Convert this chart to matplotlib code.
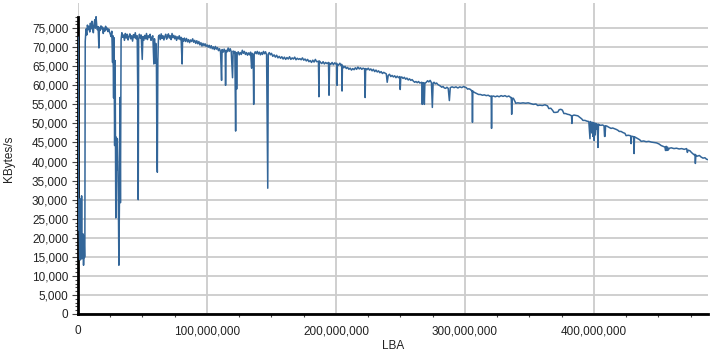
import matplotlib.pyplot as plt
import matplotlib.ticker as mticker
import numpy as np

# LBA position (millions of sectors) and transfer rate (thousands of KB/s)
lba_start = [0.0, 0.4, 0.7, 1.0, 1.3, 1.6, 1.9, 2.2, 2.5, 2.8, 3.1, 3.4, 3.7, 4.0, 4.3, 4.7, 5.0, 5.3,
             5.6, 6.2, 6.8, 7.3, 7.9, 8.5, 9.1, 9.6, 10.2, 10.8, 11.3, 11.9, 12.4, 13.0, 13.5, 14.0,
             14.5, 15.0, 15.6, 16.2, 16.6, 17.2, 17.8, 18.4, 19.0, 19.6, 20.2, 20.8, 21.4, 22.0, 22.6,
             23.2, 23.8, 24.4, 25.0, 25.6, 26.2, 26.8, 27.1, 27.6, 27.9, 28.4, 28.8, 29.3, 29.7, 30.1,
             30.5, 30.9, 31.3, 31.7, 32.1, 32.5, 32.9, 33.4, 34.0, 34.6]
kbs_start = [72.6, 22.0, 30.0, 22.5, 14.3, 30.2, 14.2, 29.5, 14.8, 31.0, 14.5, 20.8, 14.6, 21.0, 12.8, 20.5, 14.8, 15.2,
             71.5, 74.8, 73.2, 75.8, 74.6, 75.5, 74.0, 76.3, 74.8, 76.8, 75.2, 73.8, 76.0, 77.2, 75.0, 78.0,
             75.8, 74.6, 75.4, 69.8, 75.2, 74.4, 75.6, 74.8, 75.3, 73.6, 75.0, 74.2, 75.5, 74.6, 75.0,
             74.1, 74.8, 74.0, 73.5, 72.8, 74.2, 66.0, 73.0, 56.7, 72.5, 44.2, 66.5, 25.2, 46.4, 37.8,
             46.0, 38.5, 29.0, 12.8, 29.0, 56.8, 29.2, 72.0, 73.8, 72.6]

lba_early = [35.3, 36.0, 36.7, 37.4, 38.1, 38.8, 39.5, 40.2, 40.9, 41.6, 42.3, 43.0, 43.7, 44.4, 45.1, 45.9,
             46.4, 46.7, 47.0, 47.6, 48.3, 49.0, 49.8, 50.3, 51.0, 51.7, 52.4, 53.1, 53.8, 54.5, 55.2,
             55.9, 56.6, 57.3, 58.0, 58.8, 59.3, 59.8, 60.3, 60.8, 61.2, 61.5, 61.9, 62.4, 63.1, 63.8,
             64.5, 65.2, 65.9, 66.6, 67.3, 68.0, 68.7, 69.4, 70.1, 70.8, 71.5, 72.2, 72.9, 73.6, 74.3,
             75.0, 75.7, 76.4, 77.1, 77.8, 78.5, 79.2, 79.9, 80.7, 81.1, 81.8, 82.5, 83.3, 84.1, 84.9,
             85.7, 86.5, 87.3, 88.1, 88.9, 89.7, 90.5, 91.3, 92.1, 92.9, 93.7, 94.5, 95.3, 96.1, 96.9,
             97.7, 98.5, 99.3]
kbs_early = [73.2, 71.8, 73.6, 72.4, 73.4, 71.9, 72.8, 73.5, 72.2, 73.0, 71.6, 73.3, 72.5, 73.8, 72.2, 73.0,
             55.5, 30.0, 72.0, 73.4, 72.4, 73.2, 66.8, 72.8, 71.8, 73.1, 72.2, 73.6, 72.0, 73.0, 72.5,
             73.4, 71.8, 72.6, 73.0, 65.6, 72.2, 65.8, 71.0, 66.0, 41.0, 37.2, 66.5, 72.8, 73.2, 72.0,
             73.5, 72.3, 73.0, 71.9, 72.8, 73.4, 72.1, 72.9, 73.5, 72.4, 73.0, 72.0, 73.6, 72.5, 73.1,
             72.2, 72.9, 71.8, 72.7, 72.2, 73.0, 72.0, 72.6, 65.6, 72.3, 71.6, 72.4, 71.5, 72.3, 71.4,
             72.0, 71.2, 71.9, 71.5, 72.2, 71.3, 71.8, 71.0, 71.7, 70.9, 71.5, 70.6, 71.2, 70.3, 71.0,
             70.4, 70.9, 70.2]

lba_mid = [100.1, 100.9, 101.7, 102.5, 103.3, 104.1, 104.9, 105.7, 106.5, 107.3, 108.1, 108.9, 109.7, 110.5,
           111.3, 111.7, 112.5, 113.3, 114.1, 114.4, 114.8, 115.6, 116.4, 117.2, 118.0, 118.8, 119.8, 120.3,
           121.0, 121.6, 122.2, 122.6, 123.0, 123.4, 124.2, 125.0, 125.8, 126.6, 127.4, 128.2, 129.0, 129.8,
           130.6, 131.4, 132.2, 133.0, 133.8, 134.6, 135.0, 135.8, 136.2, 136.6, 137.4, 138.2, 139.0, 139.8,
           140.6, 141.4, 142.2, 143.0, 143.8, 144.6, 145.4, 146.2, 147.1, 147.5, 148.3, 149.1, 150.0, 151.0,
           152.0, 153.0, 154.0, 155.0, 156.0, 157.0, 158.0, 159.0, 160.0, 161.0, 162.0, 163.0, 164.0, 165.0,
           166.0, 167.0, 168.0, 169.0, 170.0, 171.0, 172.0, 173.0, 174.0, 175.0, 176.0, 177.0, 178.0, 179.0,
           180.0, 181.0, 182.0, 183.0, 184.0, 185.0, 186.4, 186.8, 187.1, 188.0, 189.0, 190.0, 191.0, 192.0,
           193.0, 194.2, 194.6, 195.0, 196.0, 197.0, 198.0, 199.0, 200.0, 200.5, 200.8, 201.1, 202.0, 203.0,
           204.0, 204.4, 204.7, 205.0, 206.0, 207.0, 208.0, 209.0, 210.0, 211.0, 212.0, 213.0, 214.0, 215.0,
           216.0, 217.0, 218.0, 219.0, 220.0, 221.0, 222.2, 222.6, 223.0, 224.0, 225.0, 226.0, 227.0, 228.0,
           229.0, 230.0, 231.0, 232.0, 233.0, 234.0, 235.0, 236.0, 237.0, 238.0, 239.0, 239.7, 240.5, 241.5,
           242.5, 243.5, 244.5, 245.5, 246.5, 247.5, 248.5, 249.5, 249.8, 250.2, 251.0, 252.0, 253.0, 254.0,
           255.0, 256.0, 257.0, 258.0, 259.0, 260.0, 261.0, 262.0, 263.0, 264.0, 265.0, 266.5, 266.9, 267.3,
           268.1, 268.5, 268.9, 270.0, 271.0, 272.0, 273.0, 274.0, 274.7, 275.3, 276.0, 277.0, 278.0, 279.0,
           280.0, 281.0, 282.0, 283.0, 284.0, 285.0, 286.0, 287.0, 287.9, 288.6, 290.0, 291.5, 293.0, 294.5,
           296.0, 297.5, 299.0]
kbs_mid = [70.6, 70.0, 70.5, 69.8, 70.4, 69.6, 70.1, 69.4, 70.2, 69.5, 69.9, 69.1, 69.6, 68.8,
           61.3, 69.4, 68.7, 69.5, 68.6, 60.0, 69.2, 68.8, 69.8, 68.9, 69.6, 68.8, 62.0, 69.0,
           68.4, 68.9, 48.0, 68.6, 59.0, 68.2, 68.8, 68.0, 68.6, 68.1, 69.2, 68.4, 68.9, 68.1,
           68.6, 67.9, 68.5, 68.0, 68.7, 64.5, 68.4, 68.0, 55.0, 68.2, 68.8, 68.3, 68.9, 68.2,
           68.7, 68.0, 68.6, 68.1, 68.9, 68.3, 68.8, 68.0, 33.0, 68.2, 68.6, 68.0, 68.4, 67.6,
           68.0, 67.4, 67.9, 67.2, 67.6, 67.1, 67.5, 66.9, 67.4, 66.8, 67.3, 66.9, 67.5, 66.8,
           67.2, 66.9, 67.4, 66.7, 67.1, 66.8, 67.0, 66.7, 67.2, 66.6, 66.9, 66.4, 66.8, 66.2,
           66.5, 66.0, 66.6, 66.1, 66.8, 66.2, 66.3, 57.0, 66.4, 66.0, 65.7, 66.2, 65.6, 66.0,
           65.7, 66.0, 57.4, 65.8, 65.5, 66.0, 65.4, 65.9, 65.6, 65.8, 60.0, 65.5, 65.3, 65.8,
           65.2, 65.5, 58.5, 65.2, 64.6, 65.0, 64.4, 64.7, 64.2, 64.5, 64.0, 64.4, 64.1, 64.6,
           64.2, 64.8, 64.3, 64.6, 64.2, 64.5, 64.3, 56.8, 64.4, 64.1, 64.5, 64.0, 64.3, 63.8,
           64.2, 63.6, 64.0, 63.5, 63.8, 63.3, 63.6, 63.1, 63.4, 63.2, 63.0, 60.8, 62.6, 62.9,
           62.3, 62.6, 62.2, 62.5, 62.0, 62.4, 62.0, 62.3, 58.9, 62.0, 62.2, 61.8, 62.1, 61.6,
           61.9, 61.4, 61.7, 61.3, 61.5, 61.1, 60.8, 61.0, 60.7, 61.0, 60.6, 60.8, 55.0, 60.6,
           60.7, 55.0, 60.5, 60.8, 61.2, 60.9, 61.3, 60.7, 54.2, 60.6, 60.8, 60.4, 60.6, 60.2,
           60.0, 59.8, 59.5, 59.7, 59.3, 59.2, 59.5, 59.2, 56.0, 59.4, 59.6, 59.4, 59.6, 59.3,
           59.6, 59.4, 59.7]

lba_late = [300.0, 301.0, 302.0, 303.0, 304.3, 305.0, 305.5, 305.8, 306.1, 307.0, 308.2, 309.5, 310.5,
            312.0, 313.5, 315.0, 316.5, 318.0, 319.5, 320.3, 320.6, 320.9, 322.0, 323.5, 325.0, 326.5,
            328.0, 329.5, 331.0, 332.5, 334.0, 335.5, 335.9, 336.2, 336.6, 337.5, 339.0, 339.3, 341.0,
            343.0, 345.0, 347.0, 349.0, 351.0, 353.0, 355.0, 356.4, 358.0, 360.0, 362.0, 364.0, 365.0,
            366.5, 368.0, 368.9, 370.5, 372.0, 373.0, 374.3, 375.5, 376.7, 378.0, 379.5, 381.0, 382.1,
            382.6, 382.9, 383.2, 384.5, 386.0, 387.5, 389.0, 390.5, 391.4, 393.0, 394.5, 396.0, 396.9,
            397.3, 397.7, 398.3, 398.7, 399.2, 399.6, 400.2, 400.6, 401.0, 401.5, 402.0, 402.6, 403.1,
            403.5, 404.2, 405.4, 406.5, 407.8, 408.2, 408.6, 409.0, 410.0, 411.5, 413.2, 414.5, 416.0,
            417.5, 419.0, 419.5, 421.0, 422.5, 424.0, 424.9, 426.5, 428.0, 428.5, 428.8, 429.1, 430.0,
            430.8, 431.1, 431.4, 432.5, 434.0, 435.5, 436.6, 438.5, 440.5, 442.5, 444.5, 446.5, 448.5,
            450.5, 452.1, 453.5, 455.0, 455.5, 456.0, 456.5, 457.0, 457.5, 458.5, 460.0, 462.0, 464.0,
            466.0, 468.0, 470.0, 471.8, 472.4, 473.0, 474.5, 475.5, 476.5, 477.5, 478.3, 478.6, 479.0,
            480.0, 481.7, 483.0, 484.5, 486.0, 487.3, 488.3]
kbs_late = [59.5, 59.4, 59.0, 59.1, 58.9, 58.6, 58.6, 50.3, 58.5, 58.2, 58.0, 57.8, 57.6,
            57.6, 57.4, 57.5, 57.3, 57.4, 57.1, 57.2, 48.7, 57.1, 57.2, 57.0, 57.2, 57.0,
            57.3, 57.1, 57.3, 57.0, 57.2, 56.8, 56.8, 52.4, 56.6, 56.6, 55.6, 55.3, 55.4,
            55.3, 55.4, 55.3, 55.4, 55.2, 55.0, 55.1, 54.7, 54.8, 54.7, 54.9, 54.6, 53.9,
            54.0, 53.4, 52.9, 52.9, 53.0, 53.6, 53.7, 53.5, 52.6, 52.6, 52.4, 52.3, 52.1,
            52.0, 50.0, 52.0, 52.2, 52.1, 52.0, 51.6, 51.2, 50.8, 50.8, 50.6, 50.5, 46.0,
            50.5, 50.2, 47.5, 50.3, 46.6, 50.2, 45.5, 50.1, 47.0, 50.0, 48.5, 49.8, 43.7,
            49.8, 49.6, 49.5, 49.6, 49.4, 46.6, 46.6, 49.4, 49.3, 49.0, 48.7, 48.8, 48.6,
            48.4, 48.1, 47.9, 47.9, 47.6, 47.4, 46.8, 46.9, 46.8, 46.7, 44.7, 46.6, 46.6,
            46.5, 42.1, 46.5, 46.3, 46.0, 45.7, 45.3, 45.4, 45.2, 45.3, 45.1, 45.0, 44.9,
            44.6, 44.2, 44.0, 43.8, 42.9, 44.0, 42.9, 43.8, 43.0, 43.5, 43.6, 43.4, 43.5,
            43.3, 43.4, 43.2, 43.4, 42.4, 43.0, 42.8, 42.4, 42.1, 41.8, 41.9, 39.5, 41.7,
            41.4, 41.6, 41.2, 40.9, 41.0, 40.6, 40.5]

disk_sectors = 488397168

lba = np.array(lba_start + lba_early + lba_mid + lba_late) * 1e6
kbs = np.array(kbs_start + kbs_early + kbs_mid + kbs_late) * 1000

plt.rcParams['font.family'] = ['Liberation Sans', 'DejaVu Sans']

fig = plt.figure(figsize=(7.11, 3.53), dpi=100)
ax = fig.add_axes([78 / 711, 1 - 314 / 353, 630 / 711, 311 / 353])

ax.plot(lba, kbs, color='#336699', lw=1.1, zorder=3)

ax.set_xlim(0, disk_sectors)
ax.set_ylim(0, 81600)

ax.yaxis.set_major_locator(mticker.FixedLocator(np.arange(0, 75001, 5000)))
ax.yaxis.set_minor_locator(mticker.FixedLocator(np.arange(0, 78001, 1000)))
ax.xaxis.set_major_locator(mticker.MultipleLocator(100000000))
ax.xaxis.set_minor_locator(mticker.MultipleLocator(25000000))
fmt = mticker.FuncFormatter(lambda v, p: f"{int(v):,}")
ax.yaxis.set_major_formatter(fmt)
ax.xaxis.set_major_formatter(fmt)

ax.grid(True, which='major', color='#cccccc', lw=1.3, zorder=0)
ax.tick_params(which='both', direction='out', width=0.8, color='#444444',
               labelsize=8.5, labelcolor='#222222')
ax.tick_params(axis='y', which='major', length=4, pad=3)
ax.tick_params(axis='y', which='minor', length=2.5)
ax.tick_params(axis='x', which='major', length=0, pad=8)
ax.tick_params(axis='x', which='minor', length=2.5)

for side in ['top', 'right']:
    ax.spines[side].set_visible(False)
for side in ['left', 'bottom']:
    ax.spines[side].set_linewidth(2)
    ax.spines[side].set_color('black')
ax.spines['left'].set_bounds(0, 78000)

ax.set_xlabel("LBA", fontsize=8.5, color='#222222', labelpad=2)
ax.set_ylabel("KBytes/s", fontsize=8.5, color='#222222', labelpad=12)

fig.savefig("out.png", dpi=100)
